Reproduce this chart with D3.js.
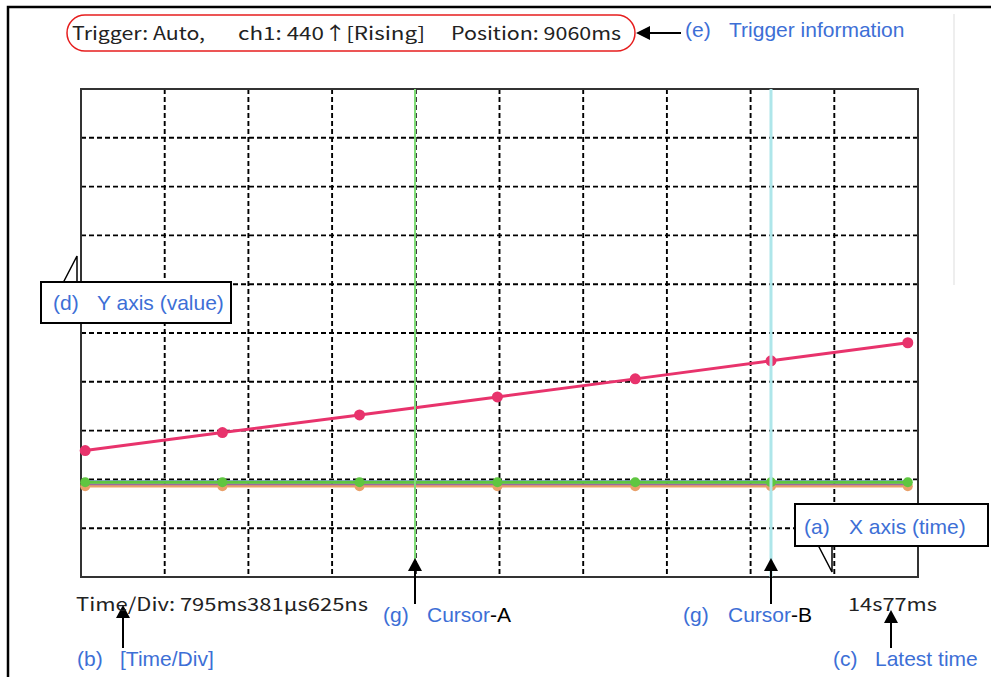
<!DOCTYPE html>
<html><head><meta charset="utf-8">
<script src="https://cdn.jsdelivr.net/npm/d3@7"></script>
<style>
html,body{margin:0;padding:0;background:#fff;}
svg{display:block;}
</style></head>
<body><svg id="c" width="991" height="677"></svg>
<script>
// ---- data ----
const timeDivMs = 795.381625;          // Time/Div
const latestMs = 14077;                 // latest time (right edge)
const divisionsX = 10, divisionsY = 10;
const valueMax = 1000;                  // 100 per division
const sampleTimes = [6163, 7467, 8770, 10080, 11390, 12680, 13980];
const seriesPink   = [259, 296, 332, 369, 406, 443, 480];
const seriesBlue   = [196, 196, 196, 196, 196, 196, 196];
const seriesOrange = [186, 186, 186, 186, 186, 186, 186];
const seriesPurple = [190, 190, 190, 190, 190, 190, 190];
const seriesGreen  = [194, 194, 194, 194, 194, 194, 194];
const cursorA = 9297, cursorB = 12680;
const triggerParts = ["Trigger: Auto,", "ch1: 440\u2191[Rising]", "Position: 9060ms"];
const timeDivLabel = "Time/Div: 795ms381\u03bcs625ns";
const latestLabel = "14s77ms";

// ---- layout ----
const svg = d3.select("#c");
const L = 81, R = 918, T = 89, B = 577;
const startMs = latestMs - divisionsX * timeDivMs;
const x = d3.scaleLinear().domain([startMs, latestMs]).range([L, R]);
const y = d3.scaleLinear().domain([0, valueMax]).range([B, T]);
const blue = "#3d6fd6";
const pixFont = "'Noto Sans CJK JP', 'DejaVu Sans', sans-serif";
const armFont = "'Liberation Sans', Arial, sans-serif";

// outer frame
svg.append("path").attr("d", "M8,677 V7 H991").attr("fill", "none").attr("stroke", "#000").attr("stroke-width", 2.5);
svg.append("line").attr("x1", 954).attr("x2", 954).attr("y1", 14).attr("y2", 285).attr("stroke", "#eee").attr("stroke-width", 2);

// grid
const xTicks = d3.range(1, divisionsX).map(i => startMs + i * timeDivMs);
const yTicks = d3.range(1, divisionsY).map(i => i * valueMax / divisionsY);
const g = svg.append("g");
g.selectAll(".vx").data(xTicks).join("line")
  .attr("x1", d => x(d)).attr("x2", d => x(d)).attr("y1", T).attr("y2", B)
  .attr("stroke", "#000").attr("stroke-width", 1.9).attr("stroke-dasharray", "5,3");
g.selectAll(".hy").data(yTicks).join("line")
  .attr("x1", L).attr("x2", R).attr("y1", d => y(d)).attr("y2", d => y(d))
  .attr("stroke", "#000").attr("stroke-width", 1.9).attr("stroke-dasharray", "5,3");
g.append("rect").attr("x", L).attr("y", T).attr("width", R - L).attr("height", B - T)
  .attr("fill", "none").attr("stroke", "#333").attr("stroke-width", 2);

// series
const line = d3.line().x((d, i) => x(sampleTimes[i])).y(d => y(d));
function drawSeries(vals, color, w, r, dash) {
  svg.append("path").datum(vals).attr("d", line).attr("fill", "none")
    .attr("stroke", color).attr("stroke-width", w).attr("stroke-dasharray", dash || null);
  if (r > 0) svg.selectAll(null).data(vals).join("circle")
    .attr("cx", (d, i) => x(sampleTimes[i])).attr("cy", d => y(d)).attr("r", r).attr("fill", color);
}
drawSeries(seriesOrange, "#e9a06a", 2.5, 5);
drawSeries(seriesPurple, "#9a6aa0", 2, 0);
drawSeries(seriesBlue, "#3550c8", 1.5, 0);
drawSeries(seriesGreen, "#5fc640", 3, 5);
drawSeries(seriesPink, "#e8336c", 3, 5.5);

// cursors
svg.append("line").attr("x1", x(cursorA)).attr("x2", x(cursorA)).attr("y1", T).attr("y2", B)
  .attr("stroke", "#80dd78").attr("stroke-width", 2);
svg.append("line").attr("x1", x(cursorB)).attr("x2", x(cursorB)).attr("y1", T).attr("y2", B)
  .attr("stroke", "#aee6ea").attr("stroke-width", 3);

// trigger box
svg.append("rect").attr("x", 67).attr("y", 15).attr("width", 568).attr("height", 36).attr("rx", 18)
  .attr("fill", "none").attr("stroke", "#e61e1e").attr("stroke-width", 1.5);
const trigX = [72, 238, 451], trigW = [133, 187, 170];
triggerParts.forEach((t, i) => {
  svg.append("text").attr("x", trigX[i]).attr("y", 40).attr("font-family", pixFont).attr("font-size", 18)
    .attr("fill", "#222").attr("textLength", trigW[i]).attr("lengthAdjust", "spacingAndGlyphs").text(t);
});

// arrows
function arrowLine(x1, y1, x2, y2) { // head at (x2,y2)
  svg.append("line").attr("x1", x1).attr("y1", y1).attr("x2", x2).attr("y2", y2).attr("stroke", "#000").attr("stroke-width", 2);
}
function headUp(cx, tip) {
  svg.append("path").attr("d", `M${cx},${tip} L${cx - 7},${tip + 13} L${cx + 7},${tip + 13} Z`).attr("fill", "#000");
}
arrowLine(681, 33, 645, 33);
svg.append("path").attr("d", "M636,33 L650,26 L650,40 Z").attr("fill", "#000");
arrowLine(x(cursorA), 604, x(cursorA), 566); headUp(x(cursorA), 558);
arrowLine(x(cursorB), 604, x(cursorB), 566); headUp(x(cursorB), 558);
arrowLine(123, 648, 123, 612); headUp(123, 605);
arrowLine(891, 648, 891, 617); headUp(891, 610);

// callouts
function callout(bx, by, bw, bh, tail) {
  svg.append("path").attr("d", tail).attr("fill", "#fff").attr("stroke", "#000").attr("stroke-width", 1.5);
  svg.append("rect").attr("x", bx).attr("y", by).attr("width", bw).attr("height", bh)
    .attr("fill", "#fff").attr("stroke", "#000").attr("stroke-width", 2);
}
callout(41, 282, 190, 41, "M63,283 L77,256 L77,283");
callout(795, 504, 193, 42, "M818,545 L832,572 L832,545");

function label(xl, xt, yb, letter, txt, extra) {
  svg.append("text").attr("x", xl).attr("y", yb).attr("font-family", armFont).attr("font-size", 21)
    .attr("fill", blue).text(letter);
  const t = svg.append("text").attr("x", xt).attr("y", yb).attr("font-family", armFont).attr("font-size", 21)
    .attr("fill", blue).text(txt);
  if (extra) t.append("tspan").attr("fill", "#000").text(extra);
}
label(685, 729, 37, "(e)", "Trigger information");
label(53, 97, 310, "(d)", "Y axis (value)");
label(804, 849, 534, "(a)", "X axis (time)");
label(77, 120, 666, "(b)", "[Time/Div]");
label(383, 427, 622, "(g)", "Cursor", "-A");
label(683, 728, 622, "(g)", "Cursor", "-B");
label(833, 875, 666, "(c)", "Latest time");

// bottom pixel labels
svg.append("text").attr("x", 76).attr("y", 611).attr("font-family", pixFont).attr("font-size", 18)
  .attr("fill", "#222").attr("textLength", 292).attr("lengthAdjust", "spacingAndGlyphs").text(timeDivLabel);
svg.append("text").attr("x", 848).attr("y", 611).attr("font-family", pixFont).attr("font-size", 18)
  .attr("fill", "#222").attr("textLength", 89).attr("lengthAdjust", "spacingAndGlyphs").text(latestLabel);
</script></body></html>
